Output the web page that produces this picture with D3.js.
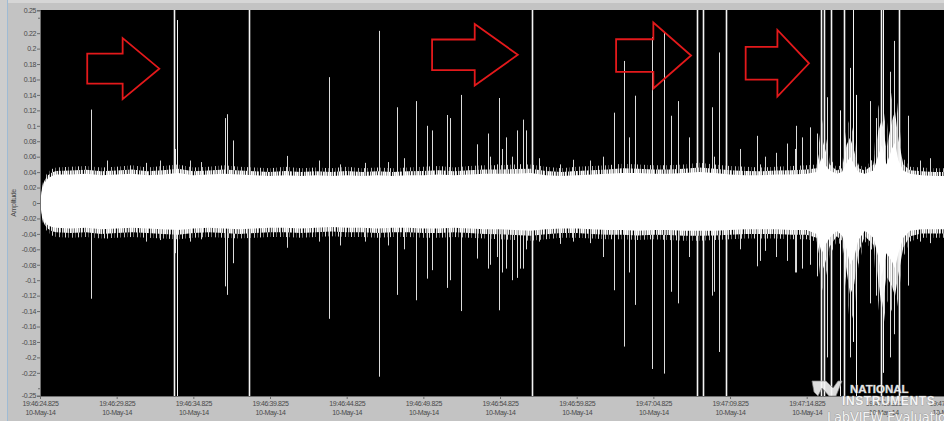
<!DOCTYPE html>
<html>
<head>
<meta charset="utf-8">
<script src="https://cdn.jsdelivr.net/npm/d3@7"></script>
<style>
html, body { margin: 0; padding: 0; background: #c3c3c3; overflow: hidden; }
svg { display: block; }
</style>
</head>
<body>
<svg id="chart" width="944" height="421"></svg>
<script>
'use strict'

// time axis, seconds after 19:46:24.825
const xTickSeconds = [0, 5, 10, 15, 20, 25, 30, 35, 40, 45, 50, 55, 59.15]
const xTickLabels = ['19:46:24.825', '19:46:29.825', '19:46:34.825', '19:46:39.825', '19:46:44.825',
  '19:46:49.825', '19:46:54.825', '19:46:59.825', '19:47:04.825', '19:47:09.825',
  '19:47:14.825', '19:47:19.825', '19:47:23.975']
const dateLabel = '10-May-14'
const yTickValues = [0.25, 0.22, 0.2, 0.18, 0.16, 0.14, 0.12, 0.1, 0.08, 0.06, 0.04, 0.02, 0,
  -0.02, -0.04, -0.06, -0.08, -0.1, -0.12, -0.14, -0.16, -0.18, -0.2, -0.22, -0.25]
const yMinorTicks = [0.24, -0.24]

// envelope of the dense noise band
const bandTime = [0, 0.1, 0.2, 0.33, 0.52, 0.78, 1.05,
  2, 3, 4, 5, 6, 7, 8, 9, 10, 11, 12, 13, 14, 15, 16, 17, 18, 19, 20, 21, 22, 23, 24, 25,
  26, 27, 28, 29, 30, 31, 32, 33, 34, 35, 36, 37, 38, 39, 40, 41, 42, 43, 44, 45, 46, 47, 48, 49, 50,
  50.65, 50.98, 51.2, 51.5, 51.96, 52.3, 52.6, 52.83, 53.1, 53.37, 53.8, 54.35, 54.67, 54.9,
  55.2, 55.55, 55.76, 55.98, 56.3, 56.74, 57.5, 58.3, 59.2]
const coreHigh = [0, 0.014, 0.021, 0.027, 0.032, 0.035, 0.037,
  0.037, 0.038, 0.036, 0.037, 0.038, 0.036, 0.037, 0.039, 0.036, 0.037, 0.038, 0.037, 0.036, 0.035,
  0.036, 0.035, 0.036, 0.035, 0.036, 0.035, 0.036, 0.035, 0.036, 0.036, 0.037, 0.036, 0.037, 0.038,
  0.038, 0.038, 0.039, 0.036, 0.035, 0.036, 0.037, 0.038, 0.039, 0.039, 0.038, 0.038, 0.039, 0.040,
  0.039, 0.037, 0.036, 0.036, 0.037, 0.037, 0.038,
  0.040, 0.060, 0.050, 0.042, 0.038, 0.040, 0.052, 0.060, 0.050, 0.040, 0.038, 0.042, 0.062, 0.075,
  0.050, 0.070, 0.078, 0.055, 0.042, 0.038, 0.036, 0.035, 0.035]
const coreLow = [0, -0.013, -0.02, -0.025, -0.029, -0.031, -0.032,
  -0.033, -0.032, -0.034, -0.033, -0.032, -0.033, -0.034, -0.035, -0.033, -0.032,
  -0.033, -0.034, -0.033, -0.032, -0.032, -0.033, -0.032, -0.031, -0.032, -0.032,
  -0.033, -0.032, -0.032, -0.033, -0.033, -0.032, -0.033, -0.034, -0.034, -0.035,
  -0.036, -0.034, -0.033, -0.033, -0.034, -0.035, -0.035, -0.036, -0.035, -0.035,
  -0.036, -0.036, -0.036, -0.035, -0.034, -0.034, -0.034, -0.035, -0.035,
  -0.040, -0.065, -0.055, -0.045, -0.036, -0.042, -0.060, -0.080, -0.070, -0.048, -0.036, -0.045, -0.070, -0.095,
  -0.065, -0.075, -0.085, -0.065, -0.045, -0.036, -0.034, -0.034, -0.034]
const haloHigh = [0, 0.020, 0.028, 0.034, 0.040, 0.044, 0.046,
  0.047, 0.048, 0.046, 0.047, 0.049, 0.046, 0.048, 0.050, 0.046, 0.047,
  0.049, 0.047, 0.046, 0.045, 0.047, 0.045, 0.046, 0.045, 0.047, 0.045,
  0.046, 0.045, 0.046, 0.047, 0.048, 0.046, 0.048, 0.049, 0.049, 0.050,
  0.050, 0.047, 0.045, 0.047, 0.048, 0.049, 0.051, 0.050, 0.049, 0.049,
  0.050, 0.052, 0.050, 0.048, 0.047, 0.046, 0.047, 0.048, 0.049,
  0.050, 0.110, 0.089, 0.058, 0.046, 0.050, 0.098, 0.110, 0.085, 0.050, 0.046, 0.058, 0.124, 0.141,
  0.089, 0.142, 0.160, 0.110, 0.058, 0.047, 0.046, 0.045, 0.045]
const haloLow = [0, -0.019, -0.027, -0.033, -0.038, -0.042, -0.044,
  -0.045, -0.044, -0.046, -0.045, -0.044, -0.045, -0.046, -0.047, -0.045, -0.044,
  -0.045, -0.046, -0.045, -0.044, -0.044, -0.045, -0.044, -0.043, -0.044, -0.044,
  -0.045, -0.044, -0.044, -0.045, -0.045, -0.044, -0.045, -0.046, -0.047, -0.048,
  -0.049, -0.047, -0.045, -0.045, -0.046, -0.047, -0.047, -0.048, -0.047, -0.048,
  -0.049, -0.049, -0.048, -0.047, -0.046, -0.046, -0.046, -0.047, -0.047,
  -0.050, -0.115, -0.100, -0.068, -0.050, -0.055, -0.115, -0.158, -0.140, -0.080, -0.050, -0.063, -0.130, -0.180,
  -0.125, -0.140, -0.155, -0.120, -0.070, -0.050, -0.045, -0.045, -0.045]

// isolated transients: [seconds, max, min]; +-0.3 means clipped at full scale
const spikes = [
  [3.35, 0.121, -0.124], [8.74, 0.3, -0.3], [8.93, 0.237, -0.3], [12.05, 0.11, -0.108],
  [12.22, 0.115, -0.119], [12.59, 0.081, -0.078], [13.61, 0.3, -0.3], [18.83, 0.163, -0.15],
  [22.09, 0.223, -0.225], [23.28, 0.124, -0.119], [24.54, 0.132, -0.126], [25.22, 0.1, -0.098],
  [25.57, 0.094, -0.087], [26.54, 0.114, -0.11], [26.72, 0.11, -0.1], [27.48, 0.14, -0.14],
  [28.5, 0.076, -0.072], [29.2, 0.09, -0.085], [29.96, 0.136, -0.139], [30.39, 0.085, -0.085],
  [31.09, 0.094, -0.097], [31.48, 0.108, -0.085], [31.7, 0.094, -0.06], [32.09, 0.3, -0.3],
  [37.42, 0.117, -0.113], [38.11, 0.184, -0.186], [38.43, 0.085, -0.09], [38.82, 0.139, -0.132],
  [39.89, 0.215, -0.215], [40.72, 0.221, -0.221], [41.17, 0.113, -0.115], [41.63, 0.132, -0.13],
  [42.35, 0.085, -0.07], [42.85, 0.3, -0.3], [43.26, 0.3, -0.3], [43.81, 0.124, -0.12],
  [44.28, 0.195, -0.193], [44.74, 0.3, -0.3], [46.74, 0.087, -0.082], [48.7, 0.077, -0.075],
  [49.3, 0.1, -0.09], [49.68, 0.085, -0.085], [50.22, 0.098, -0.08], [50.65, 0.09, -0.095],
  [50.94, 0.3, -0.3], [51.13, 0.3, -0.3], [51.35, 0.137, -0.2], [51.57, 0.3, -0.3],
  [52.17, 0.12, -0.3], [52.45, 0.3, -0.3], [52.83, 0.175, -0.2], [53.02, 0.3, -0.18],
  [53.24, 0.14, -0.3], [54.13, 0.132, -0.13], [54.5, 0.11, -0.12], [54.85, 0.3, -0.3],
  [55.0, 0.3, -0.22], [55.43, 0.17, -0.2], [55.7, 0.21, -0.17], [56.04, 0.3, -0.3],
  [56.63, 0.113, -0.107]
]
const smallSpikes = [
  [4.37, 0.055, -0.046], [6.91, 0.052, -0.05], [7.83, 0.055, -0.048], [8.8, 0.07, -0.065],
  [9.78, 0.055, -0.05], [10.5, 0.053, -0.047], [16.11, 0.061, -0.058], [18.18, 0.055, -0.05],
  [19.57, 0.05, -0.055], [21.2, 0.052, -0.05], [22.7, 0.053, -0.055], [23.74, 0.058, -0.06],
  [29.35, 0.06, -0.08], [29.8, 0.05, -0.07], [30.13, 0.07, -0.09], [30.78, 0.06, -0.1],
  [31.3, 0.05, -0.085], [32.54, 0.058, -0.05], [33.91, 0.05, -0.053], [34.74, 0.056, -0.05],
  [35.87, 0.055, -0.052], [36.7, 0.06, -0.07], [43.96, 0.06, -0.115], [45.65, 0.07, -0.06],
  [46.96, 0.05, -0.075], [47.28, 0.06, -0.062], [48.0, 0.065, -0.07], [49.24, 0.07, -0.09],
  [57.39, 0.055, -0.05], [58.04, 0.058, -0.052]
]

// red arrow annotations: tip time, tip amplitude, neck time, tail time
const arrowTip = [7.78, 31.16, 42.46, 50.15]
const arrowLevel = [0.174, 0.192, 0.191, 0.181]
const arrowNeck = [5.39, 28.35, 40.0, 48.09]
const arrowTail = [3.08, 25.57, 37.57, 46.02]

const width = 944
const height = 421
const svg = d3.select('#chart')
const font = '"Liberation Sans", Arial, sans-serif'

const x = d3.scaleLinear().domain([0, 59.15]).range([40, 947])
const y = d3.scaleLinear().domain([-0.25, 0.25]).range([396, 10])

// panel
svg.append('rect').attr('width', width).attr('height', height).attr('fill', '#c3c3c3')
svg.append('rect').attr('width', width).attr('height', 3).attr('fill', '#d6d6d6')
svg.append('rect').attr('width', 7).attr('height', height).attr('fill', '#cdcdcd')
svg.append('line').attr('x1', 7.5).attr('x2', 7.5).attr('y1', 0).attr('y2', height)
  .attr('stroke', '#9fbbd4').attr('stroke-width', 1)

const defs = svg.append('defs')
defs.append('clipPath').attr('id', 'plot-clip')
  .append('rect').attr('x', 40).attr('y', 10).attr('width', 907).attr('height', 386)

// hairy edge of the noise band: two comb layers of uneven grey columns
function comb (id, shades) {
  const p = defs.append('pattern').attr('id', id)
    .attr('patternUnits', 'userSpaceOnUse').attr('width', shades.length).attr('height', 8)
  shades.forEach((c, i) => {
    if (c) p.append('rect').attr('x', i).attr('width', 1).attr('height', 8).attr('fill', c)
  })
}
comb('hair-outer', ['#d8d8d8', null, null, '#707070', null, null, null, '#b5b5b5', null, null, '#4a4a4a', null, null])
comb('hair-inner', ['#ffffff', '#9a9a9a', '#f0f0f0', '#3c3c3c', '#ffffff', '#c4c4c4', null, '#e8e8e8', '#7a7a7a', '#ffffff', '#d0d0d0'])

svg.append('rect').attr('x', 40).attr('y', 10).attr('width', 907).attr('height', 386).attr('fill', '#000')

const plot = svg.append('g').attr('clip-path', 'url(#plot-clip)')

const band = bandTime.map((t, i) => ({ t, hi: coreHigh[i], lo: coreLow[i], hHi: haloHigh[i], hLo: haloLow[i] }))

plot.append('path')
  .datum(band)
  .attr('fill', 'url(#hair-outer)')
  .attr('d', d3.area().x(d => x(d.t)).y0(d => y(d.hLo)).y1(d => y(d.hHi)))

plot.append('path')
  .datum(band)
  .attr('fill', 'url(#hair-inner)')
  .attr('d', d3.area().x(d => x(d.t))
    .y0(d => (y(d.lo) + y(d.hLo)) / 2)
    .y1(d => (y(d.hi) + y(d.hHi)) / 2))

const spikeLine = (sel, list, cls) => sel.selectAll('line.' + cls)
  .data(list)
  .enter().append('line')
  .attr('class', cls)
  .attr('x1', d => Math.round(x(d[0])) + 0.5)
  .attr('x2', d => Math.round(x(d[0])) + 0.5)
  .attr('y1', d => y(d[1]))
  .attr('y2', d => y(d[2]))

spikeLine(plot, smallSpikes, 'small')
  .attr('stroke', '#d8d8d8')
  .attr('stroke-width', 1)

spikeLine(plot, spikes, 'spike')
  .attr('stroke', d => (d[1] >= 0.25 || d[2] <= -0.25) ? '#f4f4f4' : '#dcdcdc')
  .attr('stroke-width', d => (d[1] >= 0.25 && d[2] <= -0.25) ? 1.6 : 1)

plot.append('path')
  .datum(band)
  .attr('fill', '#ffffff')
  .attr('d', d3.area().x(d => x(d.t)).y0(d => y(d.lo)).y1(d => y(d.hi)))

// axes
const yAxis = svg.append('g')
  .attr('transform', 'translate(40,0)')
  .call(d3.axisLeft(y).tickValues(yTickValues).tickSize(3).tickPadding(1)
    .tickFormat(d => String(+d.toFixed(2))))
yAxis.selectAll('.tick')
  .filter(d => d === 0.25 || d === -0.25)
  .attr('transform', d => `translate(0,${y(d) + (d > 0 ? 1 : 0)})`)
svg.append('g')
  .attr('transform', 'translate(40,0)')
  .call(d3.axisLeft(y).tickValues(yMinorTicks).tickSize(2).tickFormat(''))
  .call(g => g.select('.domain').remove())

const xAxis = svg.append('g')
  .attr('transform', 'translate(0,396)')
  .call(d3.axisBottom(x).tickValues(xTickSeconds).tickSize(3).tickFormat(''))

svg.selectAll('.domain').attr('stroke', '#707070')
svg.selectAll('.tick line').attr('stroke', '#6a6a6a')
yAxis.selectAll('.tick text')
  .attr('fill', '#4a4a4a')
  .attr('font-family', font)
  .attr('font-size', 7)
  .attr('letter-spacing', -0.35)

const xLabel = xAxis.selectAll('.tick').append('text')
  .attr('fill', '#4a4a4a')
  .attr('font-family', font)
  .attr('font-size', 7)
  .attr('letter-spacing', -0.4)
  .attr('text-anchor', 'middle')
xLabel.append('tspan').attr('x', 0).attr('y', 10).text((d, i) => xTickLabels[i])
xLabel.append('tspan').attr('x', 0).attr('y', 19).text(dateLabel)

svg.append('text')
  .attr('transform', 'translate(16,203) rotate(-90)')
  .attr('text-anchor', 'middle')
  .attr('fill', '#4a4a4a')
  .attr('font-family', font)
  .attr('font-size', 7)
  .attr('letter-spacing', -0.4)
  .text('Amplitude')

svg.append('text')
  .attr('x', 495).attr('y', 426)
  .attr('text-anchor', 'middle')
  .attr('fill', '#4a4a4a')
  .attr('font-family', font)
  .attr('font-size', 7)
  .text('Time')

// annotation arrows
const shaftHalf = [15, 15.3, 16.3, 16.3]
const headHalf = [30.5, 30.7, 33, 33.3]
svg.append('g').selectAll('path')
  .data(arrowTip)
  .enter().append('path')
  .attr('fill', 'none')
  .attr('stroke', '#e3191b')
  .attr('stroke-width', 1.8)
  .attr('stroke-linejoin', 'miter')
  .attr('d', (t, i) => {
    const cy = y(arrowLevel[i])
    const tip = x(t)
    const neck = x(arrowNeck[i])
    const tail = x(arrowTail[i])
    const s = shaftHalf[i]
    const h = headHalf[i]
    return `M${tail},${cy - s}L${neck},${cy - s}L${neck},${cy - h}L${tip},${cy}` +
      `L${neck},${cy + h}L${neck},${cy + s}L${tail},${cy + s}Z`
  })

// evaluation watermark
const mark = svg.append('g').attr('opacity', 0.9)
const markText = (tx, ty, size, weight, spacing, family, label) => mark.append('text')
  .attr('x', tx).attr('y', ty)
  .attr('font-family', family).attr('font-weight', weight).attr('font-size', size)
  .attr('letter-spacing', spacing)
  .attr('fill', '#fbfbfb').attr('stroke', '#8a8a8a').attr('stroke-width', 0.7)
  .attr('paint-order', 'stroke')
  .text(label)
mark.append('path')
  .attr('d', 'M812,381L826,381L833,388L838,381L842,381L836,396L829,396L822,388L818,396L814,392Z')
  .attr('fill', '#f4f4f4').attr('stroke', '#8a8a8a').attr('stroke-width', 0.7)
markText(850, 393, 11.5, 'bold', 0, font, 'NATIONAL')
markText(842, 405, 12, 'bold', 0.6, font, 'INSTRUMENTS')
markText(827, 422, 14.5, 'normal', -0.2, '"DejaVu Sans Condensed", "DejaVu Sans", sans-serif', 'LabVIEW  Evaluation Software')
</script>
</body>
</html>
